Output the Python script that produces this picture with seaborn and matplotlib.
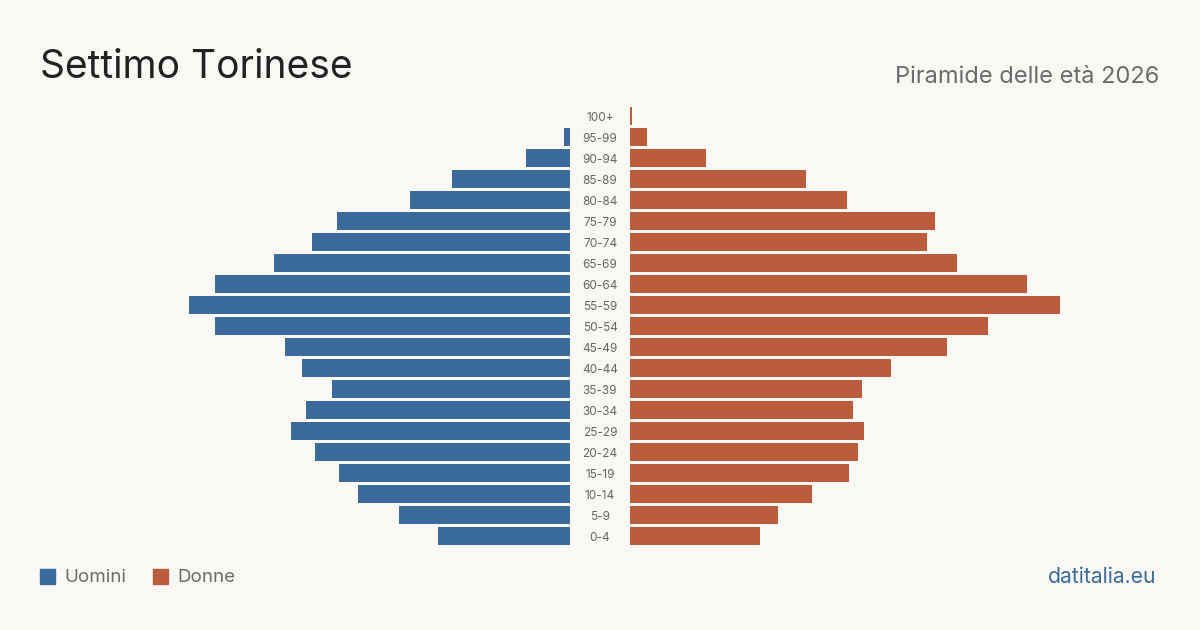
import matplotlib.pyplot as plt
import matplotlib.transforms as mtransforms
import pandas as pd
import seaborn as sns

sns.set_theme(style="white")
plt.rcParams["font.family"] = ["Inter", "DejaVu Sans"]

BG = "#f9f8f4"
BLUE = "#3b6b9b"
ORANGE = "#bb5d3c"

age_groups = ["100+", "95-99", "90-94", "85-89", "80-84", "75-79", "70-74",
              "65-69", "60-64", "55-59", "50-54", "45-49", "40-44", "35-39",
              "30-34", "25-29", "20-24", "15-19", "10-14", "5-9", "0-4"]
men = [0, 28, 205, 549, 744, 1083, 1200, 1376, 1651, 1772, 1651, 1325,
       1246, 1107, 1228, 1297, 1186, 1074, 986, 795, 614]
women = [9, 79, 353, 818, 1009, 1418, 1381, 1521, 1846, 2000, 1665, 1474,
         1214, 1079, 1037, 1088, 1060, 1018, 846, 688, 605]

df = pd.DataFrame({"age": age_groups, "men": men, "women": women})

W, H = 1200, 630
fig = plt.figure(figsize=(12, 6.3), dpi=100, facecolor=BG)

# pixel geometry
half_w = 460
top, bottom = 105.5, 546.5
xmax = 2140

def px_axes(x0, x1):
    return fig.add_axes([x0 / W, 1 - bottom / H, (x1 - x0) / W, (bottom - top) / H])

ax_l = px_axes(570 - half_w, 570)
ax_r = px_axes(630, 630 + half_w)

sns.barplot(data=df, x="men", y="age", order=age_groups, color=BLUE,
            saturation=1, width=0.81, linewidth=0, ax=ax_l)
sns.barplot(data=df, x="women", y="age", order=age_groups, color=ORANGE,
            saturation=1, width=0.81, linewidth=0, ax=ax_r)

ax_l.set_xlim(xmax, 0)
ax_r.set_xlim(0, xmax)
for ax in (ax_l, ax_r):
    ax.set_facecolor("none")
    ax.set_ylim(len(age_groups) - 0.5, -0.5)
    ax.set_xlabel("")
    ax.set_ylabel("")
    ax.set_xticks([])
    ax.set_yticks([])
    sns.despine(ax=ax, left=True, bottom=True)

trans = mtransforms.blended_transform_factory(ax_r.transAxes, ax_r.transData)
for i, lab in enumerate(age_groups):
    ax_r.text(-30 / half_w, i + 0.08, lab, transform=trans, ha="center",
              va="center", fontsize=8.5, color="#666666")

fig.text(40 / W, 1 - 67 / H, "Settimo Torinese", fontsize=28, color="#222222",
         ha="left", va="center")
fig.text(1159 / W, 1 - 77 / H, "Piramide delle età 2026", fontsize=17,
         color="#6b6b6b", ha="right", va="center")

# legend
for x0, col, lab in [(40, BLUE, "Uomini"), (153, ORANGE, "Donne")]:
    fig.patches.append(plt.Rectangle((x0 / W, 1 - 584 / H), 15 / W, 15 / H,
                                     color=col, transform=fig.transFigure))
    fig.text((x0 + 24) / W, 1 - 577 / H, lab, fontsize=13.5, color="#6b6b6b",
             ha="left", va="center")

fig.text(1156 / W, 1 - 577 / H, "datitalia.eu", fontsize=15.2, color=BLUE,
         ha="right", va="center")

fig.savefig("out.png", dpi=100, facecolor=BG)
